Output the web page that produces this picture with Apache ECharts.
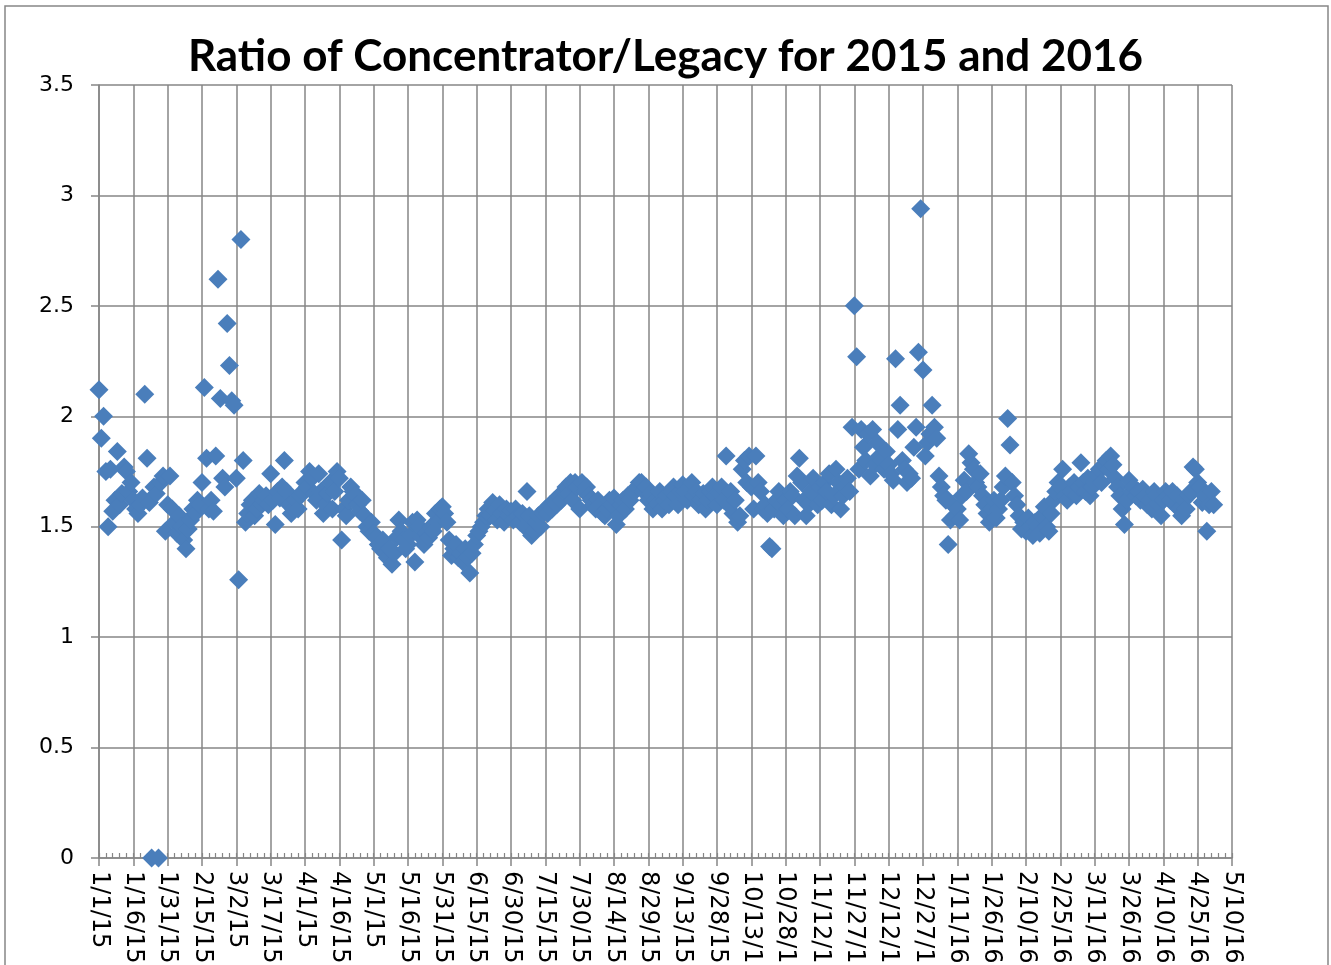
<!DOCTYPE html>
<html>
<head>
<meta charset="utf-8">
<title>Ratio of Concentrator/Legacy</title>
<script src="https://cdn.jsdelivr.net/npm/echarts@6/dist/echarts.min.js"></script>
<style>
    html, body { margin: 0; padding: 0; background: #fff; }
    #ratio { width: 1331px; height: 965px; }
</style>
</head>
<body>
<div id="ratio"></div>
<script>
// one value per day, starting 1/1/15
var jan15 = [2.12, 1.90, 2.00, 1.75, 1.50, 1.76, 1.57, 1.62, 1.84, 1.60, 1.65, 1.77, 1.75, 1.66, 1.70, 1.62, 1.58, 1.56, 1.60, 1.63, 2.10, 1.81, 1.61, 0.00, 1.68, 1.65, 0.00, 1.70, 1.73, 1.48, 1.60];
var feb15 = [1.73, 1.58, 1.52, 1.47, 1.55, 1.50, 1.44, 1.40, 1.49, 1.53, 1.58, 1.56, 1.62, 1.60, 1.70, 2.13, 1.81, 1.58, 1.62, 1.57, 1.82, 2.62, 2.08, 1.72, 1.68, 2.42, 2.23, 2.07];
var mar15 = [2.05, 1.72, 1.26, 2.80, 1.80, 1.52, 1.56, 1.60, 1.62, 1.55, 1.58, 1.65, 1.60, 1.62, 1.64, 1.60, 1.74, 1.62, 1.51, 1.66, 1.63, 1.68, 1.80, 1.66, 1.60, 1.56, 1.58, 1.62, 1.58, 1.64, 1.66];
var apr15 = [1.70, 1.68, 1.75, 1.72, 1.65, 1.62, 1.74, 1.66, 1.56, 1.60, 1.65, 1.70, 1.58, 1.66, 1.75, 1.72, 1.44, 1.58, 1.55, 1.62, 1.68, 1.66, 1.64, 1.60, 1.57, 1.62, 1.55, 1.50, 1.48, 1.52];
var may15 = [1.47, 1.45, 1.42, 1.40, 1.44, 1.38, 1.36, 1.40, 1.33, 1.38, 1.45, 1.53, 1.48, 1.44, 1.40, 1.42, 1.46, 1.52, 1.34, 1.53, 1.50, 1.45, 1.42, 1.47, 1.45, 1.50, 1.48, 1.56, 1.52, 1.58, 1.59];
var jun15 = [1.56, 1.52, 1.44, 1.37, 1.40, 1.42, 1.36, 1.38, 1.34, 1.40, 1.36, 1.29, 1.38, 1.42, 1.46, 1.48, 1.50, 1.52, 1.55, 1.58, 1.55, 1.61, 1.57, 1.53, 1.60, 1.56, 1.52, 1.58, 1.55, 1.57];
var jul15 = [1.53, 1.58, 1.55, 1.52, 1.56, 1.50, 1.66, 1.55, 1.46, 1.48, 1.52, 1.55, 1.50, 1.56, 1.58, 1.56, 1.60, 1.58, 1.62, 1.60, 1.64, 1.62, 1.66, 1.68, 1.65, 1.70, 1.62, 1.70, 1.68, 1.58, 1.70];
var aug15 = [1.66, 1.68, 1.64, 1.62, 1.60, 1.58, 1.62, 1.60, 1.56, 1.55, 1.58, 1.62, 1.60, 1.63, 1.51, 1.55, 1.60, 1.62, 1.58, 1.64, 1.62, 1.65, 1.66, 1.68, 1.70, 1.70, 1.66, 1.68, 1.62, 1.65, 1.58];
var sep15 = [1.62, 1.60, 1.66, 1.58, 1.62, 1.64, 1.60, 1.66, 1.68, 1.64, 1.60, 1.66, 1.69, 1.66, 1.62, 1.68, 1.70, 1.64, 1.66, 1.60, 1.62, 1.65, 1.58, 1.62, 1.66, 1.68, 1.64, 1.60, 1.65, 1.68];
var oct15 = [1.62, 1.82, 1.60, 1.66, 1.56, 1.62, 1.52, 1.55, 1.76, 1.80, 1.70, 1.82, 1.68, 1.58, 1.82, 1.70, 1.66, 1.58, 1.60, 1.56, 1.41, 1.40, 1.58, 1.62, 1.66, 1.60, 1.55, 1.62, 1.58, 1.66, 1.64];
var nov15 = [1.55, 1.73, 1.81, 1.70, 1.62, 1.55, 1.60, 1.66, 1.72, 1.64, 1.60, 1.68, 1.62, 1.70, 1.66, 1.74, 1.60, 1.64, 1.76, 1.70, 1.58, 1.64, 1.68, 1.72, 1.66, 1.95, 2.50, 2.27, 1.76, 1.94];
var dec15 = [1.86, 1.80, 1.92, 1.73, 1.94, 1.78, 1.88, 1.82, 1.80, 1.76, 1.84, 1.78, 1.74, 1.71, 2.26, 1.94, 2.05, 1.80, 1.76, 1.70, 1.74, 1.72, 1.86, 1.95, 2.29, 2.94, 2.21, 1.82, 1.88, 1.92, 2.05];
var jan16 = [1.95, 1.90, 1.73, 1.68, 1.64, 1.62, 1.42, 1.53, 1.60, 1.55, 1.58, 1.53, 1.64, 1.71, 1.66, 1.83, 1.79, 1.76, 1.70, 1.68, 1.74, 1.64, 1.60, 1.56, 1.52, 1.58, 1.62, 1.54, 1.58, 1.62, 1.68];
var feb16 = [1.73, 1.99, 1.87, 1.70, 1.64, 1.60, 1.55, 1.49, 1.52, 1.48, 1.54, 1.50, 1.46, 1.52, 1.50, 1.47, 1.55, 1.59, 1.50, 1.48, 1.56, 1.62, 1.66, 1.70, 1.68, 1.76, 1.64, 1.62, 1.68];
var mar16 = [1.66, 1.70, 1.64, 1.68, 1.79, 1.70, 1.66, 1.72, 1.64, 1.68, 1.70, 1.74, 1.76, 1.70, 1.78, 1.80, 1.76, 1.82, 1.78, 1.72, 1.68, 1.64, 1.58, 1.51, 1.62, 1.71, 1.66, 1.68, 1.64, 1.66, 1.62];
var apr16 = [1.67, 1.64, 1.60, 1.62, 1.58, 1.66, 1.64, 1.60, 1.55, 1.62, 1.66, 1.64, 1.62, 1.66, 1.60, 1.64, 1.58, 1.55, 1.62, 1.58, 1.64, 1.66, 1.77, 1.76, 1.70, 1.68, 1.61, 1.64, 1.48, 1.60];
var may16 = [1.66, 1.60];

// x tick labels, every 15 days from 1/1/15
var tickLabels = ['1/1/15', '1/16/15', '1/31/15', '2/15/15', '3/2/15', '3/17/15', '4/1/15', '4/16/15',
    '5/1/15', '5/16/15', '5/31/15', '6/15/15', '6/30/15', '7/15/15', '7/30/15', '8/14/15', '8/29/15',
    '9/13/15', '9/28/15', '10/13/15', '10/28/15', '11/12/15', '11/27/15', '12/12/15', '12/27/15',
    '1/11/16', '1/26/16', '2/10/16', '2/25/16', '3/11/16', '3/26/16', '4/10/16', '4/25/16', '5/10/16'];

var months = [jan15, feb15, mar15, apr15, may15, jun15, jul15, aug15, sep15, oct15, nov15, dec15,
    jan16, feb16, mar16, apr16, may16];

var gridColor = '#868686';
var fontName = 'DejaVu Sans';

function buildPoints() {
    var points = [];
    var day = 0;
    months.forEach(function (month) {
        month.forEach(function (v) {
            points.push([day, v]);
            day++;
        });
    });
    return points;
}

var chart = echarts.init(document.getElementById('ratio'));

var option = {
    backgroundColor: '#fff',
    animation: false,
    title: {
        text: 'Ratio of Concentrator/Legacy for 2015 and 2016',
        left: 'center',
        top: 30,
        textStyle: {
            fontFamily: 'Lato',
            fontWeight: 'bold',
            fontSize: 44,
            color: '#000'
        }
    },
    graphic: [{
        type: 'rect',
        shape: {x: 5, y: 6, width: 1323, height: 1000},
        style: {fill: 'none', stroke: gridColor, lineWidth: 1.5},
        silent: true
    }],
    grid: {
        left: 99,
        right: 99,
        top: 85,
        bottom: 107,
        containLabel: false,
        outerBoundsMode: 'none'
    },
    xAxis: [{
        type: 'value',
        min: 0,
        max: 495,
        interval: 15,
        position: 'bottom',
        axisLine: {show: true, onZero: false, lineStyle: {color: gridColor, width: 1.5}},
        axisTick: {show: true, length: 8, lineStyle: {color: gridColor, width: 1.5}},
        splitLine: {show: true, lineStyle: {color: gridColor, width: 1.5}},
        axisLabel: {
            rotate: -90,
            margin: 13,
            fontSize: 24,
            fontFamily: fontName,
            color: '#000',
            formatter: function (v) {
                return tickLabels[Math.round(v / 15)];
            }
        }
    }, {
        // minor ticks, pointing up into the plot
        type: 'value',
        min: 0,
        max: 495,
        interval: 3,
        position: 'bottom',
        axisLine: {show: false},
        axisTick: {show: true, inside: true, length: 5, lineStyle: {color: gridColor, width: 1.2}},
        splitLine: {show: false},
        axisLabel: {show: false}
    }],
    yAxis: {
        type: 'value',
        min: 0,
        max: 3.5,
        interval: 0.5,
        axisLine: {show: true, onZero: false, lineStyle: {color: gridColor, width: 1.5}},
        axisTick: {show: true, length: 8, lineStyle: {color: gridColor, width: 1.5}},
        splitLine: {show: true, lineStyle: {color: gridColor, width: 1.5}},
        axisLabel: {
            margin: 25,
            fontSize: 22,
            fontFamily: fontName,
            color: '#000'
        }
    },
    series: [{
        name: 'Ratio',
        type: 'scatter',
        xAxisIndex: 0,
        clip: false,
        symbol: 'diamond',
        symbolSize: 19,
        itemStyle: {color: '#4a7ebb', opacity: 1},
        data: buildPoints()
    }]
};

chart.setOption(option);
</script>
</body>
</html>
